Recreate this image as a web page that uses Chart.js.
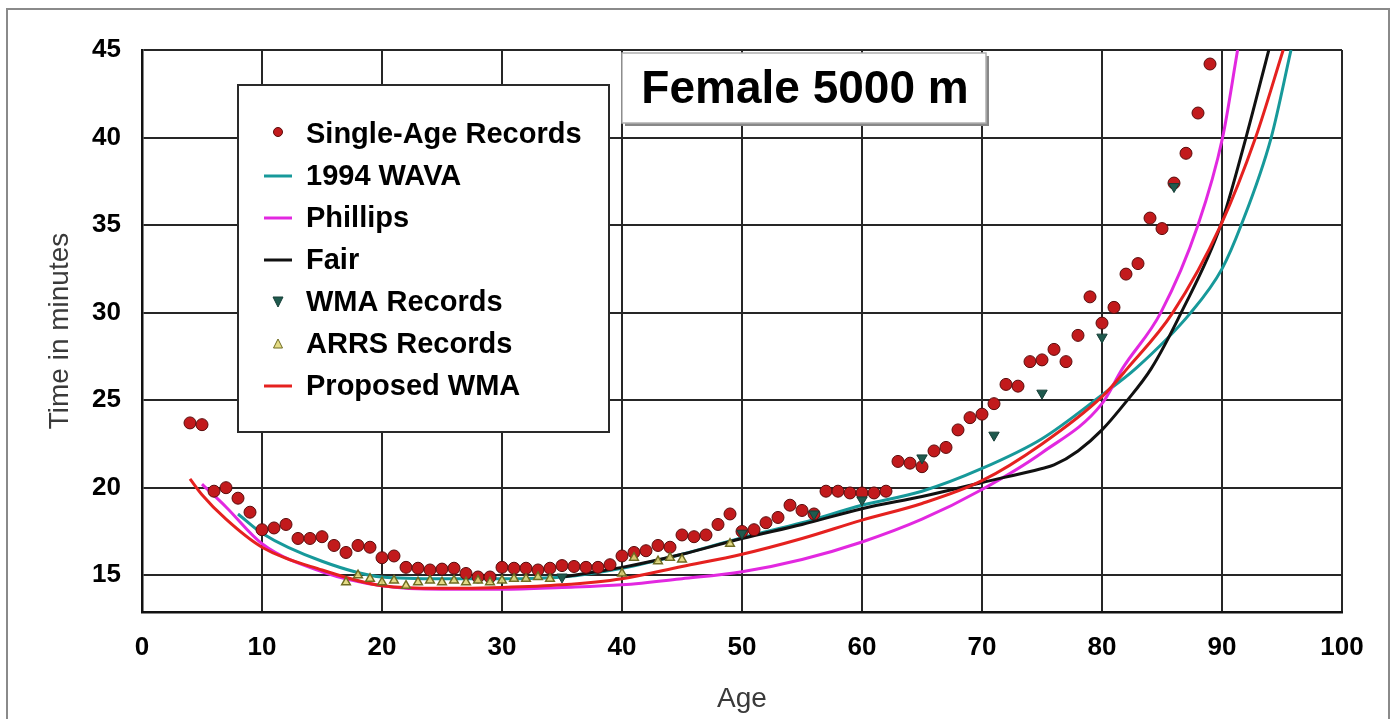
<!DOCTYPE html>
<html>
<head>
<meta charset="utf-8">
<script src="https://cdn.jsdelivr.net/npm/chart.js@4.4.1/dist/chart.umd.min.js"></script>
<style>
  html, body { margin: 0; padding: 0; background: #fff; }
  canvas { display: block; }
</style>
</head>
<body>
<canvas id="chart" width="1396" height="719"></canvas>
<script>
// Single-age records
const singleAges = [4, 5, 6, 7, 8, 9, 10, 11, 12, 13, 14, 15, 16, 17, 18, 19, 20, 21, 22, 23,
  24, 25, 26, 27, 28, 29, 30, 31, 32, 33, 34, 35, 36, 37, 38, 39, 40, 41, 42, 43,
  44, 45, 46, 47, 48, 49, 50, 51, 52, 53, 54, 55, 56, 57, 58, 59, 60, 61, 62, 63,
  64, 65, 66, 67, 68, 69, 70, 71, 72, 73, 74, 75, 76, 77, 78, 79, 80, 81, 82, 83,
  84, 85, 86, 87, 88, 89];
const singleTimes = [23.7, 23.6, 19.8, 20.0, 19.4, 18.6, 17.6, 17.7, 17.9, 17.1,
  17.1, 17.2, 16.7, 16.3, 16.7, 16.6, 16.0, 16.1, 15.45, 15.4,
  15.3, 15.35, 15.4, 15.1, 14.9, 14.9, 15.45, 15.4, 15.4, 15.3,
  15.4, 15.55, 15.5, 15.45, 15.45, 15.6, 16.1, 16.3, 16.4, 16.7,
  16.6, 17.3, 17.2, 17.3, 17.9, 18.5, 17.5, 17.6, 18.0, 18.3,
  19.0, 18.7, 18.5, 19.8, 19.8, 19.7, 19.7, 19.7, 19.8, 21.5,
  21.4, 21.2, 22.1, 22.3, 23.3, 24.0, 24.2, 24.8, 25.9, 25.8,
  27.2, 27.3, 27.9, 27.2, 28.7, 30.9, 29.4, 30.3, 32.2, 32.8,
  35.4, 34.8, 37.4, 39.1, 41.4, 44.2];

// 1994 WAVA curve
const wavaAges = [8, 10, 15, 20, 25, 30, 35, 40, 45, 50, 55, 60, 65, 70, 75, 80, 82.8, 87.4, 90, 91.6, 94.1, 95.75];
const wavaTimes = [18.5, 17.4, 15.8, 14.9, 14.8, 14.8, 14.9, 15.4, 16.2, 17.15, 18.0, 19.0, 19.8, 21.1, 22.8, 25.3, 26.8, 30, 32.5, 35, 40, 45];

// Phillips curve
const phillipsAges = [5, 7, 10, 15, 20, 25, 30, 35, 40, 45, 50, 55, 60, 65, 70, 75, 80, 81.7, 84.9, 88, 90.05, 91.3];
const phillipsTimes = [20.2, 18.9, 16.8, 15.2, 14.4, 14.2, 14.2, 14.3, 14.45, 14.8, 15.2, 15.9, 16.9, 18.2, 19.9, 22.0, 24.8, 26.8, 30, 35, 40, 45];

// Fair curve
const fairAges = [35, 40, 45, 50, 55, 60, 65, 70, 75, 76, 78, 80, 82, 84.1, 86.6, 89.9, 92, 93.9];
const fairTimes = [14.9, 15.45, 16.2, 17.1, 17.9, 18.8, 19.5, 20.3, 21.1, 21.3, 22.1, 23.3, 24.9, 26.8, 30, 35, 40, 45];

// WMA records
const wmaAges = [35, 50, 56, 60, 65, 71, 75, 80, 86];
const wmaTimes = [14.9, 17.4, 18.5, 19.3, 21.7, 23.0, 25.4, 28.6, 37.2];

// ARRS records
const arrsAges = [17, 18, 19, 20, 21, 22, 23, 24, 25, 26, 27, 28, 29, 30, 31, 32, 33, 34, 40, 41, 43, 44, 45, 49];
const arrsTimes = [14.6, 15.0, 14.8, 14.6, 14.7, 14.4, 14.6, 14.7, 14.6, 14.7, 14.6, 14.7, 14.6, 14.7, 14.8, 14.8, 14.9, 14.8, 15.1, 16.0, 15.8, 16.0, 15.9, 16.8];

// Proposed WMA curve
const proposedAges = [4, 5, 7, 10, 15, 20, 25, 30, 35, 40, 45, 50, 55, 60, 65, 70, 75, 80, 82.1, 85.9, 89.9, 92.8, 95.1];
const proposedTimes = [20.5, 19.6, 18.2, 16.6, 15.3, 14.4, 14.25, 14.3, 14.45, 14.8, 15.5, 16.2, 17.1, 18.15, 19.1, 20.4, 22.5, 25.2, 26.8, 30, 35, 40, 45];

const xTicks = [0, 10, 20, 30, 40, 50, 60, 70, 80, 90, 100];
const yTicks = [15, 20, 25, 30, 35, 40, 45];

const pts = (xs, ys) => xs.map((x, i) => ({ x: x, y: ys[i] }));

function curve(label, xs, ys, color, order) {
  return {
    label: label,
    data: pts(xs, ys),
    showLine: true,
    borderColor: color,
    backgroundColor: color,
    borderWidth: 3,
    pointRadius: 0,
    cubicInterpolationMode: "monotone",
    order: order,
    legendKind: "line",
  };
}

const datasets = [
  {
    label: "Single-Age Records",
    data: pts(singleAges, singleTimes),
    pointStyle: "circle",
    pointRadius: 6,
    backgroundColor: "#c21a1c",
    borderColor: "#5a0c0c",
    borderWidth: 1,
    order: 2,
    legendKind: "circle",
  },
  curve("1994 WAVA", wavaAges, wavaTimes, "#17999a", 6),
  curve("Phillips", phillipsAges, phillipsTimes, "#e228e0", 5),
  curve("Fair", fairAges, fairTimes, "#111111", 4),
  {
    label: "WMA Records",
    data: pts(wmaAges, wmaTimes),
    pointStyle: "triangle",
    rotation: 180,
    pointRadius: 6,
    backgroundColor: "#1f5a4e",
    borderColor: "#163f37",
    borderWidth: 1,
    order: 0,
    legendKind: "down",
  },
  {
    label: "ARRS Records",
    data: pts(arrsAges, arrsTimes),
    pointStyle: "triangle",
    pointRadius: 5,
    backgroundColor: "rgba(225,215,120,0.9)",
    borderColor: "#6f6c22",
    borderWidth: 1.5,
    order: 1,
    legendKind: "up",
  },
  curve("Proposed WMA", proposedAges, proposedTimes, "#e5211f", 3),
];

const boxesPlugin = {
  id: "boxes",
  beforeDraw(chart) {
    const ctx = chart.ctx;
    ctx.save();
    ctx.fillStyle = "#fff";
    ctx.fillRect(0, 0, chart.width, chart.height);
    ctx.strokeStyle = "#8a8a8a";
    ctx.lineWidth = 2;
    ctx.strokeRect(7, 9, 1382, 730);
    ctx.restore();
  },
  afterDatasetsDraw(chart) {
    const ctx = chart.ctx;
    ctx.save();

    // title box
    ctx.fillStyle = "#888";
    ctx.fillRect(625, 56, 364, 70);
    ctx.fillStyle = "#fff";
    ctx.fillRect(622, 53, 364, 70);
    ctx.strokeStyle = "#b0b0b0";
    ctx.lineWidth = 1.5;
    ctx.strokeRect(622, 53, 364, 70);
    ctx.fillStyle = "#000";
    ctx.font = "bold 46px 'Liberation Sans', Arial, sans-serif";
    ctx.textAlign = "center";
    ctx.textBaseline = "middle";
    ctx.fillText("Female 5000 m", 805, 90);

    // legend box
    ctx.fillStyle = "#fff";
    ctx.fillRect(238, 85, 371, 347);
    ctx.strokeStyle = "#2a2a2a";
    ctx.lineWidth = 2;
    ctx.strokeRect(238, 85, 371, 347);

    ctx.font = "bold 29px 'Liberation Sans', Arial, sans-serif";
    ctx.textAlign = "left";
    chart.data.datasets.forEach((ds, i) => {
      const y = 134 + i * 42;
      const mx = 278;
      ctx.fillStyle = ds.backgroundColor;
      ctx.strokeStyle = ds.borderColor;
      ctx.lineWidth = 1;
      if (ds.legendKind === "line") {
        ctx.lineWidth = 3;
        ctx.beginPath();
        ctx.moveTo(264, y);
        ctx.lineTo(292, y);
        ctx.stroke();
      } else if (ds.legendKind === "circle") {
        ctx.beginPath();
        ctx.arc(mx, y - 2, 4.5, 0, Math.PI * 2);
        ctx.fill();
        ctx.stroke();
      } else if (ds.legendKind === "down") {
        ctx.beginPath();
        ctx.moveTo(mx - 5, y - 5);
        ctx.lineTo(mx + 5, y - 5);
        ctx.lineTo(mx, y + 5);
        ctx.closePath();
        ctx.fill();
        ctx.stroke();
      } else if (ds.legendKind === "up") {
        ctx.beginPath();
        ctx.moveTo(mx - 4.5, y + 4);
        ctx.lineTo(mx + 4.5, y + 4);
        ctx.lineTo(mx, y - 5);
        ctx.closePath();
        ctx.fill();
        ctx.stroke();
      }
      ctx.fillStyle = "#000";
      ctx.fillText(ds.label, 306, y + 1);
    });
    ctx.restore();
  },
};

const tickFont = { family: "'Liberation Sans', Arial, sans-serif", size: 26, weight: "bold" };
const titleFont = { family: "'Liberation Sans', Arial, sans-serif", size: 28, weight: "normal" };

new Chart(document.getElementById("chart").getContext("2d"), {
  type: "scatter",
  data: { datasets: datasets },
  options: {
    responsive: false,
    animation: false,
    layout: { padding: { top: 50, right: 54, left: 0, bottom: 0 } },
    plugins: {
      legend: { display: false },
      tooltip: { enabled: false },
    },
    scales: {
      x: {
        type: "linear",
        min: 0,
        max: 100,
        afterFit: (scale) => { scale.height = 107; },
        afterBuildTicks: (scale) => { scale.ticks = xTicks.map((v) => ({ value: v })); },
        grid: { color: "#262626", lineWidth: 2, drawTicks: false },
        border: { color: "#111", width: 2.5 },
        ticks: { color: "#000", font: tickFont, padding: 20 },
        title: {
          display: true,
          text: "Age",
          color: "#3a3a3a",
          font: titleFont,
          padding: { top: 0, bottom: 3 },
        },
      },
      y: {
        type: "linear",
        min: 12.9,
        max: 45,
        afterFit: (scale) => { scale.width = 142; },
        afterBuildTicks: (scale) => { scale.ticks = yTicks.map((v) => ({ value: v })); },
        grid: { color: "#262626", lineWidth: 2, drawTicks: false },
        border: { color: "#111", width: 2.5 },
        ticks: { color: "#000", font: tickFont, padding: 21 },
        title: {
          display: true,
          text: "Time in minutes",
          color: "#3a3a3a",
          font: titleFont,
          padding: { top: 43, bottom: 0 },
        },
      },
    },
  },
  plugins: [boxesPlugin],
});
</script>
</body>
</html>
